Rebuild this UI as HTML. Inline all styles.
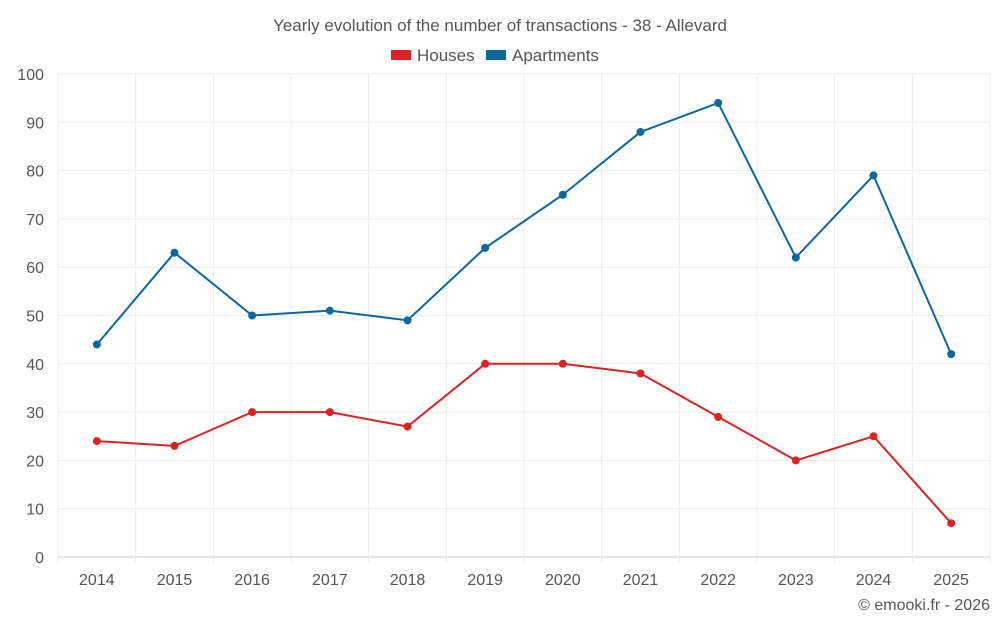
<!DOCTYPE html>
<html><head><meta charset="utf-8"><style>
body{margin:0;background:#fff;font-family:"Liberation Sans",sans-serif;}
svg text{font-family:"Liberation Sans",sans-serif;fill:#555;}
</style></head><body>
<svg id="c" width="1000" height="625">
<text x="500" y="31" text-anchor="middle" font-size="17">Yearly evolution of the number of transactions - 38 - Allevard</text>
<g>
<rect x="391" y="50" width="20" height="10" fill="#dd2222"/>
<text x="417" y="61" font-size="17">Houses</text>
<rect x="486" y="50" width="20" height="10" fill="#0a67a0"/>
<text x="512" y="61" font-size="17">Apartments</text>
</g>
<g id="grid"></g><g id="series"></g>
<text x="990" y="610" text-anchor="end" font-size="16">© emooki.fr - 2026</text>
</svg>
<script>
const years=[2014,2015,2016,2017,2018,2019,2020,2021,2022,2023,2024,2025];
const houses=[24,23,30,30,27,40,40,38,29,20,25,7];
const apartments=[44,63,50,51,49,64,75,88,94,62,79,42];
const yTicks=[0,10,20,30,40,50,60,70,80,90,100];
const L=58,R=990,T=74,B=557;
const xs=i=>L+(R-L)*(i+0.5)/years.length;
const ys=v=>B-(B-T)*v/100;
const NS="http://www.w3.org/2000/svg";
const g=document.getElementById('grid'),s=document.getElementById('series');
function mk(tag,a,p){const e=document.createElementNS(NS,tag);for(const k in a)e.setAttribute(k,a[k]);p.appendChild(e);return e;}
yTicks.forEach(v=>{
 const l=mk('line',{x1:L,x2:R,y1:ys(v),y2:ys(v),stroke:v===0?'#ccc':'#ebebeb'},g);
 
 
 const t=mk('text',{x:L-14,y:ys(v)+6,'text-anchor':'end','font-size':16},g);t.textContent=v;
 
 
});
for(let i=0;i<=years.length;i++){
 const x=L+(R-L)*i/years.length;
 const l=mk('line',{x1:x,x2:x,y1:T,y2:B+5,stroke:'#ebebeb'},g);
 
 
}
years.forEach((y,i)=>{
 const t=mk('text',{x:xs(i),y:585,'text-anchor':'middle','font-size':16},g);t.textContent=y;
 
 
});
function draw(data,color,name){
 const p=mk('polyline',{points:data.map((v,i)=>xs(i)+','+ys(v)).join(' '),fill:'none',stroke:color,'stroke-width':2},s);
 
 
 data.forEach((v,i)=>{
  const c=mk('circle',{cx:xs(i),cy:ys(v),r:4,fill:color},s);
  
  
 });
}
draw(houses,'#dd2222','houses');
draw(apartments,'#0a67a0','apartments');
</script>
</body></html>
